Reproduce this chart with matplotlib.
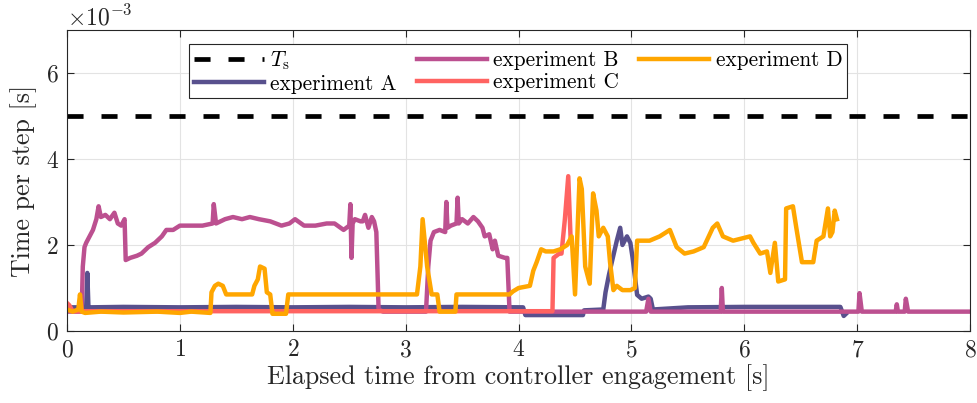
import matplotlib
matplotlib.use('Agg')
import matplotlib.pyplot as plt
import numpy as np

plt.rcParams['font.family'] = 'serif'
plt.rcParams['font.serif'] = ['cmr10']
plt.rcParams['mathtext.fontset'] = 'cm'
plt.rcParams['axes.formatter.use_mathtext'] = True

# sampling period [ms]
Ts = 5.0

# experiment A  (time [s], time per step [ms])
t_a = [0, 0.17, 0.18, 0.19, 0.20, 0.5, 1.0, 1.5, 2.0, 2.5, 3.0, 3.5, 4.04, 4.06, 4.57, 4.58,
       4.75, 4.77, 4.80, 4.83, 4.87, 4.90, 4.92, 4.96, 4.99, 5.01, 5.05, 5.09, 5.15, 5.17, 5.19,
       5.5, 6.0, 6.5, 6.85, 6.88, 6.90]
v_a = [0.55, 0.55, 1.35, 0.55, 0.55, 0.56, 0.55, 0.56, 0.55, 0.56, 0.55, 0.56, 0.55, 0.37, 0.37, 0.48,
       0.5, 0.9, 1.3, 1.65, 2.1, 2.4, 2.0, 2.2, 2.05, 1.7, 0.84, 0.75, 0.8, 0.75, 0.5,
       0.55, 0.56, 0.56, 0.56, 0.35, 0.4]

# experiment B
t_b = [0, 0.13, 0.14, 0.155, 0.17, 0.2, 0.23, 0.26, 0.28, 0.30, 0.34, 0.38, 0.42, 0.45, 0.48, 0.51,
       0.52, 0.56, 0.62, 0.66, 0.72, 0.78, 0.84, 0.88, 0.94, 1.0, 1.1, 1.2, 1.29, 1.30, 1.32, 1.4,
       1.47, 1.55, 1.62, 1.7, 1.8, 1.9, 1.97, 2.02, 2.1, 2.2, 2.3, 2.37, 2.45, 2.5, 2.51, 2.52,
       2.53, 2.55, 2.6, 2.62, 2.64, 2.67, 2.70, 2.72, 2.74, 2.76, 2.8, 3.0, 3.18, 3.2, 3.22, 3.25,
       3.3, 3.35, 3.36, 3.37, 3.40, 3.45, 3.46, 3.47, 3.5, 3.55, 3.6, 3.64, 3.68, 3.70, 3.74, 3.77,
       3.79, 3.82, 3.88, 3.90, 3.92, 4.5, 5.13, 5.15, 5.17, 5.79, 5.80, 5.81, 7.01, 7.02, 7.04,
       7.34, 7.35, 7.36, 7.42, 7.43, 7.45, 8.0]
v_b = [0.45, 0.45, 1.5, 1.95, 2.05, 2.2, 2.35, 2.6, 2.9, 2.65, 2.7, 2.6, 2.75, 2.5, 2.45, 2.6,
       1.65, 1.7, 1.75, 1.8, 1.95, 2.05, 2.2, 2.35, 2.35, 2.45, 2.45, 2.45, 2.5, 2.95, 2.5, 2.6,
       2.65, 2.6, 2.65, 2.6, 2.55, 2.45, 2.5, 2.6, 2.45, 2.45, 2.5, 2.5, 2.35, 2.45, 2.95, 1.7,
       2.5, 2.6, 2.55, 2.55, 2.7, 2.4, 2.65, 2.55, 2.3, 0.5, 0.45, 0.45, 0.45, 1.5, 2.1, 2.3,
       2.35, 2.3, 3.0, 2.4, 2.45, 2.5, 3.1, 2.5, 2.6, 2.5, 2.65, 2.55, 2.4, 2.2, 2.25, 1.9,
       2.1, 1.75, 1.7, 1.7, 0.45, 0.45, 0.45, 0.75, 0.45, 0.45, 1.0, 0.45, 0.45, 0.88, 0.45,
       0.45, 0.62, 0.45, 0.45, 0.75, 0.45, 0.45]

# experiment C
t_c = [0, 0.02, 0.05, 1.0, 2.0, 3.0, 4.0, 4.30, 4.31, 4.36, 4.38, 4.41, 4.44, 4.46]
v_c = [0.65, 0.6, 0.46, 0.46, 0.46, 0.46, 0.46, 0.46, 1.7, 1.8, 1.8, 2.6, 3.6, 2.2]

# experiment D
t_d = [0, 0.05, 0.10, 0.115, 0.13, 0.16, 0.3, 0.5, 0.8, 1.0, 1.1, 1.27, 1.28, 1.31, 1.34, 1.38,
       1.41, 1.45, 1.55, 1.64, 1.66, 1.69, 1.71, 1.75, 1.77, 1.80, 1.82, 1.84, 1.94, 1.96, 2.2,
       2.5, 2.8, 3.10, 3.13, 3.15, 3.19, 3.23, 3.28, 3.30, 3.44, 3.45, 3.6, 3.8, 3.92, 3.95, 4.0,
       4.1, 4.13, 4.16, 4.2, 4.24, 4.31, 4.37, 4.43, 4.47, 4.50, 4.54, 4.56, 4.59, 4.63, 4.66,
       4.69, 4.71, 4.75, 4.79, 4.81, 4.84, 4.87, 4.92, 4.99, 5.03, 5.05, 5.16, 5.25, 5.34, 5.40,
       5.47, 5.55, 5.64, 5.72, 5.76, 5.81, 5.90, 6.05, 6.08, 6.14, 6.20, 6.23, 6.27, 6.30, 6.36,
       6.37, 6.43, 6.46, 6.51, 6.61, 6.64, 6.70, 6.74, 6.76, 6.78, 6.80, 6.82]
v_d = [0.5, 0.45, 0.5, 0.85, 0.45, 0.42, 0.45, 0.43, 0.45, 0.42, 0.45, 0.42, 0.9, 1.05, 1.1, 1.05,
       0.85, 0.85, 0.85, 0.85, 1.05, 1.2, 1.5, 1.45, 0.9, 0.85, 0.4, 0.4, 0.4, 0.85, 0.85,
       0.85, 0.85, 0.85, 1.5, 2.6, 1.5, 0.85, 0.85, 0.45, 0.45, 0.85, 0.85, 0.85, 0.85, 0.92, 1.0,
       1.05, 1.4, 1.6, 1.9, 1.85, 1.85, 1.9, 2.0, 2.2, 0.85, 3.55, 3.3, 1.5, 1.1, 3.2,
       2.8, 2.2, 2.4, 2.2, 1.6, 0.95, 1.05, 0.95, 0.95, 1.0, 2.1, 2.1, 2.2, 2.35, 1.95,
       1.8, 1.85, 1.95, 2.4, 2.5, 2.2, 2.1, 2.2, 2.05, 1.8, 1.85, 1.35, 2.05, 1.15, 1.2,
       2.85, 2.9, 2.4, 1.6, 1.6, 2.1, 2.2, 2.85, 2.2, 2.3, 2.8, 2.6]

series = [
    (t_a, v_a, '#58508d', 'experiment A'),
    (t_b, v_b, '#bc5090', 'experiment B'),
    (t_c, v_c, '#ff6361', 'experiment C'),
    (t_d, v_d, '#ffa600', 'experiment D'),
]

fig = plt.figure(figsize=(9.78, 4.03), dpi=100)
ax = fig.add_axes([0.0685, 0.1787, 0.9235, 0.7469])

ax.plot([0, 8], [Ts * 1e-3, Ts * 1e-3], color='k', lw=3.4, dashes=(3.4, 3.8), label=r'$T_\mathrm{s}$')
for t, v, c, name in series:
    ax.plot(t, np.array(v) * 1e-3, color=c, lw=3.2, label=name, solid_joinstyle='round')

ax.set_xlim(0, 8)
ax.set_ylim(0, 7e-3)
ax.set_xticks(range(9))
ax.set_yticks([0, 2e-3, 4e-3, 6e-3])
ax.ticklabel_format(axis='y', style='sci', scilimits=(-3, -3), useMathText=True)
ax.grid(True, color='#e3e3e3', lw=0.8)
ax.set_axisbelow(True)
ax.tick_params(direction='in', top=True, right=True, length=5, width=0.8,
               labelsize=17, colors='#262626', pad=6)
ax.yaxis.get_offset_text().set_fontsize(17)
for s in ax.spines.values():
    s.set_color('#262626')
    s.set_linewidth(0.8)

ax.set_xlabel('Elapsed time from controller engagement [s]', fontsize=18.7, color='#262626',
              labelpad=2)
ax.set_ylabel('Time per step [s]', fontsize=18.7, color='#262626', labelpad=6)

leg = ax.legend(ncol=3, loc='upper left', bbox_to_anchor=(0.135, 0.952), borderaxespad=0,
                fontsize=15.3, frameon=True, fancybox=False, edgecolor='#262626', framealpha=1,
                handlelength=3.3, columnspacing=0.95, handletextpad=0.3, borderpad=0.22,
                labelspacing=0.12)
leg.get_frame().set_linewidth(0.8)

fig.savefig('out.png', dpi=100)
